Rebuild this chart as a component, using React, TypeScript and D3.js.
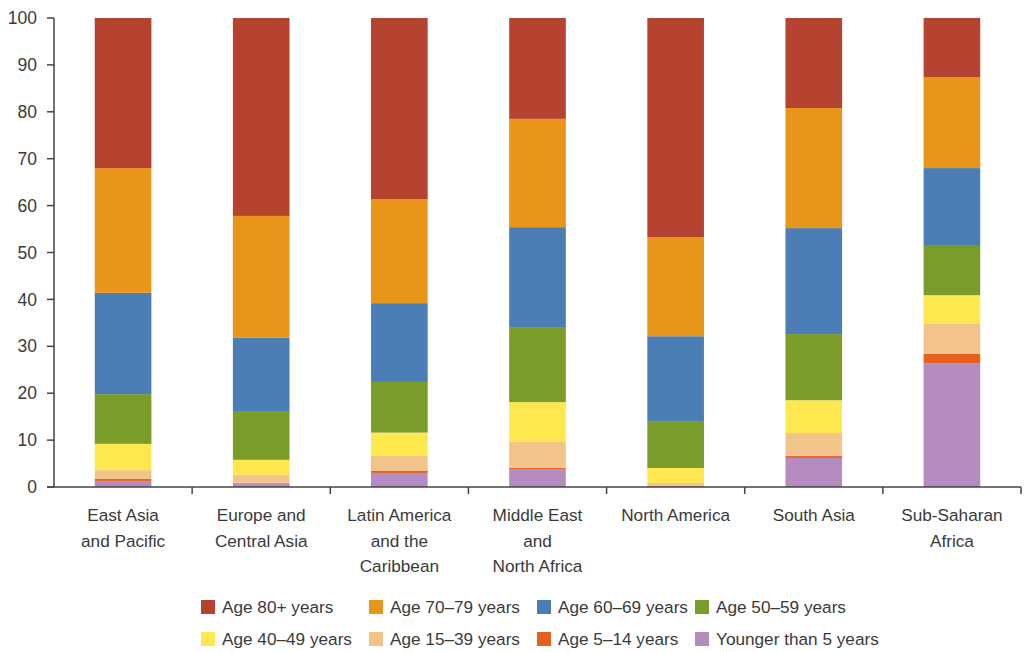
import React from "react";
import * as d3 from "d3";

const categories = [
  ["East Asia", "and Pacific"],
  ["Europe and", "Central Asia"],
  ["Latin America", "and the", "Caribbean"],
  ["Middle East", "and", "North Africa"],
  ["North America"],
  ["South Asia"],
  ["Sub-Saharan", "Africa"],
];
const seriesNames = [
  "Younger than 5 years",
  "Age 5–14 years",
  "Age 15–39 years",
  "Age 40–49 years",
  "Age 50–59 years",
  "Age 60–69 years",
  "Age 70–79 years",
  "Age 80+ years",
];
const under5 = [1.3, 0.8, 3.0, 3.8, 0.2, 6.2, 26.4];
const age5to14 = [0.4, 0.1, 0.5, 0.3, 0.05, 0.4, 2.0];
const age15to39 = [1.9, 1.7, 3.1, 5.5, 0.6, 4.9, 6.4];
const age40to49 = [5.6, 3.2, 5.0, 8.5, 3.2, 7.0, 6.1];
const age50to59 = [10.6, 10.4, 10.8, 16.0, 10.0, 14.1, 10.7];
const age60to69 = [21.6, 15.6, 16.8, 21.3, 18.1, 22.6, 16.4];
const age70to79 = [26.6, 26.0, 22.2, 23.1, 21.1, 25.6, 19.4];
const age80plus = [32.0, 42.2, 38.6, 21.5, 46.75, 19.2, 12.6];
const yTicks = [0, 10, 20, 30, 40, 50, 60, 70, 80, 90, 100];

const colors = ["#B58CC0", "#E6601F", "#F3C48A", "#FFE84F", "#7A9C29", "#4A7EB5", "#E8951A", "#B5432F"];
const legendOrder = [7, 6, 5, 4, 3, 2, 1, 0];

export default function App() {
  const W = 1027, H = 652;
  const left = 54, right = 1021, top = 18, bottom = 487;
  const values = [under5, age5to14, age15to39, age40to49, age50to59, age60to69, age70to79, age80plus];
  const rows = categories.map((c, i) => {
    const r: any = { key: i };
    values.forEach((v, s) => (r["s" + s] = v[i]));
    return r;
  });
  const stack = d3.stack().keys(values.map((_, s) => "s" + s));
  const stacked = stack(rows);
  const x = d3.scaleBand<number>().domain(categories.map((_, i) => i)).range([left, right]).paddingInner(0.59).paddingOuter(0.295);
  const xb = d3.scaleBand<number>().domain(categories.map((_, i) => i)).range([left, right]);
  const y = d3.scaleLinear().domain([0, 100]).range([bottom, top]);
  const textColor = "#3a3a3a";
  const font = "'Liberation Sans', Arial, sans-serif";
  const legendX = [201, 369, 537, 695];
  const legendY = [607, 639];
  const fs = 17.2;
  return (
    <svg width={W} height={H} style={{ position: "absolute", left: 0, top: 0 }} fontFamily={font}>
      <rect x={0} y={0} width={W} height={H} fill="#fff" />
      {stacked.map((layer, s) => (
        <g key={s} fill={colors[s]}>
          {layer.map((d, i) => (
            <rect key={i} x={x(i)} width={x.bandwidth()} y={y(Math.min(100, d[1]))} height={Math.max(0, y(d[0]) - y(Math.min(100, d[1])))} />
          ))}
        </g>
      ))}
      {/* y axis */}
      <line x1={left} x2={left} y1={top} y2={bottom} stroke="#444" strokeWidth={1.5} />
      {yTicks.map((t) => (
        <g key={t}>
          <line x1={left - 7} x2={left} y1={y(t)} y2={y(t)} stroke="#444" strokeWidth={1.5} />
          <text x={left - 17} y={y(t)} dy="0.35em" textAnchor="end" fontSize={17.5} fill={textColor}>
            {t}
          </text>
        </g>
      ))}
      {/* x axis */}
      <line x1={left - 7} x2={right} y1={bottom} y2={bottom} stroke="#444" strokeWidth={1.5} />
      {categories.map((_, i) => (
        <line key={i} x1={(xb(i) as number) + xb.bandwidth()} x2={(xb(i) as number) + xb.bandwidth()} y1={bottom} y2={bottom + 7} stroke="#444" strokeWidth={1.5} />
      ))}
      {categories.map((lines, i) => (
        <text key={i} textAnchor="middle" fontSize={fs} fill={textColor}>
          {lines.map((l, k) => (
            <tspan key={k} x={(xb(i) as number) + xb.bandwidth() / 2} y={521 + k * 25.5}>
              {l}
            </tspan>
          ))}
        </text>
      ))}
      {/* legend */}
      {legendOrder.map((s, k) => {
        const col = k % 4, row = Math.floor(k / 4);
        return (
          <g key={s}>
            <rect x={legendX[col]} y={legendY[row] - 7} width={14} height={14} fill={colors[s]} />
            <text x={legendX[col] + 21} y={legendY[row]} dy="0.35em" fontSize={fs} fill={textColor}>
              {seriesNames[s]}
            </text>
          </g>
        );
      })}
    </svg>
  );
}
